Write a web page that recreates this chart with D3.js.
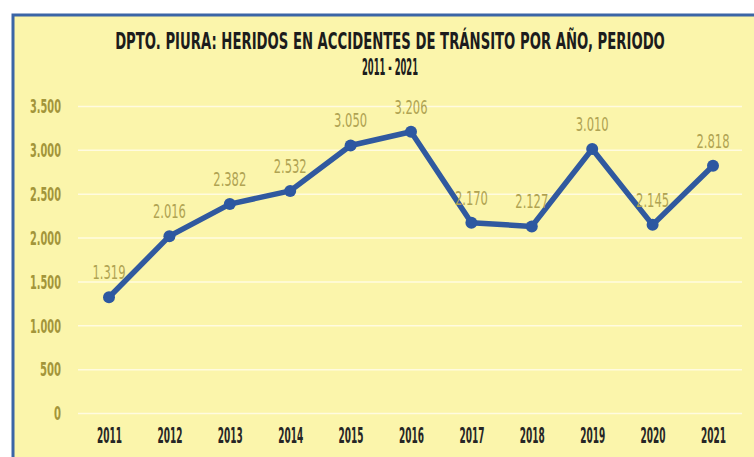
<!DOCTYPE html>
<html lang="es">
<head>
  <meta charset="UTF-8">
  <title>Heridos en accidentes de tránsito - Piura</title>
  <script src="https://d3js.org/d3.v7.min.js"></script>
  <style>
    body { margin: 0; background: #fff; }
    text { font-family: "Liberation Sans Narrow", "DejaVu Sans Condensed", "Liberation Sans", sans-serif; }
  </style>
</head>
<body>
  <div id="chart"></div>
  <script>
    // data
    const years = ["2011", "2012", "2013", "2014", "2015", "2016", "2017", "2018", "2019", "2020", "2021"];
    const heridos = [1319, 2016, 2382, 2532, 3050, 3206, 2170, 2127, 3010, 2145, 2818];
    const yTicks = [0, 500, 1000, 1500, 2000, 2500, 3000, 3500];
    const titleLines = ["DPTO. PIURA: HERIDOS EN ACCIDENTES DE TRÁNSITO POR AÑO, PERIODO", "2011 - 2021"];

    const width = 754, height = 457;

    const svg = d3.select("#chart")
      .append("svg")
      .attr("width", width)
      .attr("height", height);

    // squeeze text horizontally to a given width (the original uses a very narrow font)
    function squeeze(sel, w) {
      sel.each(function(d, i) {
        const nat = this.getComputedTextLength();
        const target = typeof w === "function" ? w(d, i) : w;
        const s = target / nat;
        const tx = +this.getAttribute("x") || 0;
        const ty = +this.getAttribute("y") || 0;
        this.setAttribute("x", 0);
        this.setAttribute("y", 0);
        this.setAttribute("transform", `translate(${tx},${ty}) scale(${s},1)`);
      });
    }

    // yellow panel with blue frame
    svg.append("rect")
      .attr("x", 13).attr("y", 15)
      .attr("width", 760).attr("height", 460)
      .attr("fill", "#fbf5ab")
      .attr("stroke", "#3b65a6")
      .attr("stroke-width", 3);

    const x = d3.scalePoint()
      .domain(years)
      .range([109, 713]);

    const y = d3.scaleLinear()
      .domain([0, 3500])
      .range([413, 106]);

    // formats 3500 -> "3.500"
    const fmt = d => d3.format(",")(d).replace(/,/g, ".");

    // title
    svg.selectAll(".title")
      .data(titleLines)
      .enter()
      .append("text")
      .attr("class", "title")
      .attr("x", 390)
      .attr("y", (d, i) => 49 + i * 26)
      .attr("text-anchor", "middle")
      .attr("font-size", 23)
      .attr("font-weight", "bold")
      .attr("fill", "#1c1c1c")
      .text(d => d)
      .call(squeeze, (d, i) => i === 0 ? 550 : 56);

    // gridlines + y axis
    const yAxis = d3.axisLeft(y)
      .tickValues(yTicks)
      .tickSize(-(742 - 78))
      .tickFormat(fmt);

    const gy = svg.append("g")
      .attr("transform", "translate(78,0)")
      .call(yAxis);
    gy.select(".domain").remove();
    gy.selectAll(".tick line")
      .attr("stroke", "#fffbe0")
      .attr("stroke-width", 1.5);
    gy.selectAll(".tick text")
      .attr("x", -17)
      .attr("dy", "0.36em")
      .attr("font-size", 19)
      .attr("font-weight", "bold")
      .attr("fill", "#a3953a")
      .call(squeeze, d => fmt(d).replace(/\./g, "").length * 7 + (d >= 1000 ? 3 : 0));

    // x axis
    const xAxis = d3.axisBottom(x).tickSize(0);
    const gx = svg.append("g")
      .attr("transform", "translate(0,427)")
      .call(xAxis);
    gx.select(".domain").remove();
    gx.selectAll(".tick text")
      .attr("dy", "0.73em")
      .attr("y", 0)
      .attr("font-size", 22)
      .attr("font-weight", "bold")
      .attr("fill", "#262626")
      .call(squeeze, 25);

    // line
    const line = d3.line()
      .x((d, i) => x(years[i]))
      .y(d => y(d));

    svg.append("path")
      .datum(heridos)
      .attr("d", line)
      .attr("fill", "none")
      .attr("stroke", "#30599f")
      .attr("stroke-width", 5.5)
      .attr("stroke-linejoin", "round");

    svg.selectAll("circle")
      .data(heridos)
      .enter()
      .append("circle")
      .attr("cx", (d, i) => x(years[i]))
      .attr("cy", d => y(d))
      .attr("r", 6)
      .attr("fill", "#2d58a1");

    // value labels
    svg.selectAll(".lbl")
      .data(heridos)
      .enter()
      .append("text")
      .attr("class", "lbl")
      .attr("x", (d, i) => x(years[i]))
      .attr("y", d => y(d) - 18)
      .attr("text-anchor", "middle")
      .attr("font-size", 19)
      .attr("fill", "#b0a352")
      .text(d => fmt(d))
      .call(squeeze, 33);
  </script>
</body>
</html>
